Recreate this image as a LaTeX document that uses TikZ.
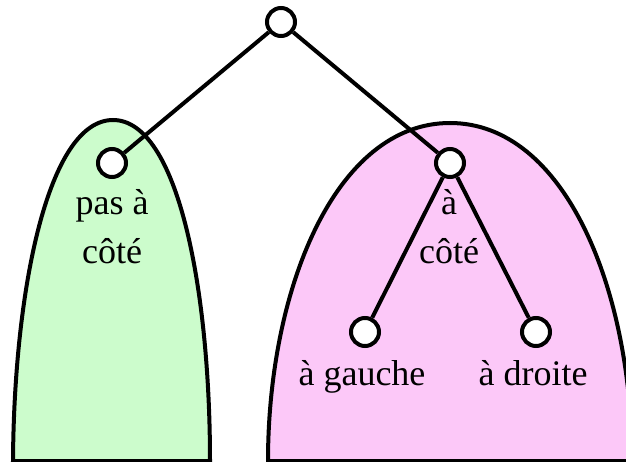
\documentclass[tikz,border=0pt]{standalone}
\usepackage{fontspec}
\setmainfont{Liberation Serif}
\definecolor{greenzone}{RGB}{204,252,204}
\definecolor{pinkzone}{RGB}{252,200,248}
\begin{document}
\begin{tikzpicture}[x=1pt,y=-1pt,
    vertex/.style={circle,draw,fill=white,line width=4pt,minimum size=28pt,inner sep=0pt},
    edge/.style={line width=4pt},
    blob/.style={draw,line width=4pt},
    lbl/.style={font=\fontsize{36}{48}\selectfont,align=center,inner sep=0pt,anchor=base}]
\useasboundingbox (0,0) rectangle (626,462);
\clip (0,0) rectangle (626,462);

% the two regions
\filldraw[blob,fill=greenzone] (13,461) .. controls (14,290) and (48,120) .. (113,120)
    .. controls (178,120) and (210,290) .. (210,461) -- cycle;
\filldraw[blob,fill=pinkzone] (268,461) .. controls (268,290) and (335,123) .. (450,123)
    .. controls (565,123) and (632,290) .. (632,461) -- cycle;

% the tree
\node[vertex] (root) at (281,22) {};
\node[vertex] (away) at (112,163) {};
\node[vertex] (side) at (450,163) {};
\node[vertex] (left) at (365,332) {};
\node[vertex] (right) at (536,332) {};

\draw[edge] (root) -- (away);
\draw[edge] (root) -- (side);
\draw[edge] (side) -- (left);
\draw[edge] (side) -- (right);

% labels (base = last line)
\node[lbl] (awaylbl) at (112,263) {pas à\\côté};
\node[lbl] (sidelbl) at (449,263) {à\\côté};
\node[lbl] (leftlbl) at (362,385) {à gauche};
\node[lbl] (rightlbl) at (533,385) {à droite};
\end{tikzpicture}
\end{document}
